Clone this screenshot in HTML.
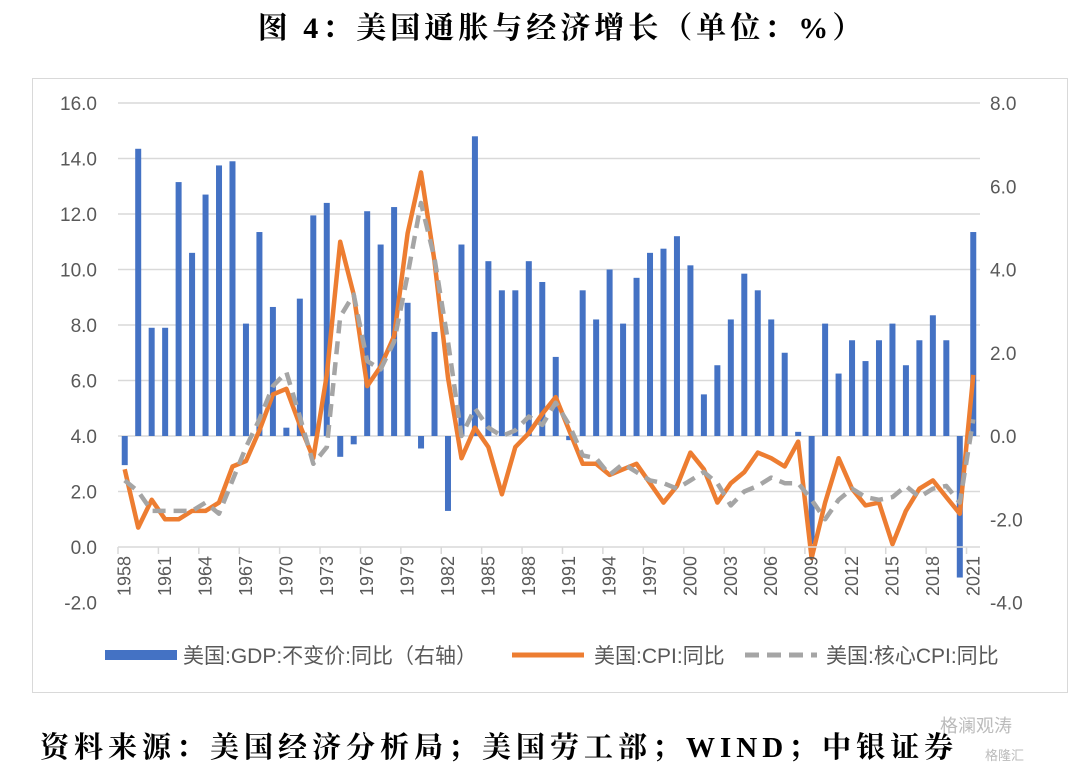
<!DOCTYPE html>
<html><head><meta charset="utf-8"><style>
body{margin:0;background:#fff;width:1080px;height:773px;overflow:hidden;font-family:"Liberation Sans","Noto Sans CJK SC",sans-serif}
</style></head><body>
<svg id="c" width="1080" height="773" xmlns="http://www.w3.org/2000/svg">
<text x="562" y="38" text-anchor="middle" font-family="Liberation Serif,'Noto Serif CJK SC',serif" font-weight="bold" font-size="30" letter-spacing="4" fill="#000">图 4：美国通胀与经济增长（单位：%）</text>
<rect x="32.5" y="78.5" width="1035" height="614" fill="none" stroke="#d9d9d9"/>
<g id="grid"></g><g id="bars"></g><g id="lines"></g><g id="axes"></g>
<g font-size="21" fill="#595959">
<rect x="105" y="650" width="72" height="10" fill="#4472C4"/>
<text x="183" y="663">美国:GDP:不变价:同比（右轴）</text>
<line x1="512" y1="655" x2="584" y2="655" stroke="#ED7D31" stroke-width="5"/>
<text x="594" y="663">美国:CPI:同比</text>
<line x1="745" y1="655" x2="817" y2="655" stroke="#A5A5A5" stroke-width="5" stroke-dasharray="14,8"/>
<text x="826" y="663">美国:核心CPI:同比</text>
</g>
<text x="40" y="757" font-family="Liberation Serif,'Noto Serif CJK SC',serif" font-weight="bold" font-size="29" letter-spacing="5" fill="#000">资料来源：美国经济分析局；美国劳工部；WIND；中银证券</text>
<text x="940" y="732" font-size="18" fill="#bbb">格澜观涛</text>
<text x="985" y="760" font-size="13" fill="#bbb">格隆汇</text>
</svg>
<script>
const years=[];for(let y=1958;y<=2021;y++)years.push(y);
const gdp=[-0.7,6.9,2.6,2.6,6.1,4.4,5.8,6.5,6.6,2.7,4.9,3.1,0.2,3.3,5.3,5.6,-0.5,-0.2,5.4,4.6,5.5,3.2,-0.3,2.5,-1.8,4.6,7.2,4.2,3.5,3.5,4.2,3.7,1.9,-0.1,3.5,2.8,4.0,2.7,3.8,4.4,4.5,4.8,4.1,1.0,1.7,2.8,3.9,3.5,2.8,2.0,0.1,-2.6,2.7,1.5,2.3,1.8,2.3,2.7,1.7,2.3,2.9,2.3,-3.4,4.9];
const cpi=[2.8,0.7,1.7,1.0,1.0,1.3,1.3,1.6,2.9,3.1,4.2,5.5,5.7,4.4,3.2,6.2,11.0,9.1,5.8,6.5,7.6,11.3,13.5,10.3,6.1,3.2,4.3,3.6,1.9,3.6,4.1,4.8,5.4,4.2,3.0,3.0,2.6,2.8,3.0,2.3,1.6,2.2,3.4,2.8,1.6,2.3,2.7,3.4,3.2,2.9,3.8,-0.4,1.6,3.2,2.1,1.5,1.6,0.1,1.3,2.1,2.4,1.8,1.2,6.2];
const core=[2.4,2.0,1.3,1.3,1.3,1.3,1.6,1.2,2.4,3.6,4.6,5.8,6.3,4.7,3.0,3.6,8.3,9.1,6.7,6.4,7.4,9.8,12.4,10.4,7.4,4.0,5.0,4.3,4.0,4.2,4.7,4.4,5.2,4.4,3.3,3.2,2.6,3.0,2.7,2.4,2.3,2.1,2.4,2.7,2.3,1.5,2.0,2.2,2.5,2.3,2.3,1.7,1.0,1.7,2.1,1.8,1.7,1.8,2.2,1.8,2.1,2.2,1.6,4.6];
const leftTicks=[-2,0,2,4,6,8,10,12,14,16];
const rightTicks=[-4,-2,0,2,4,6,8];
const NS="http://www.w3.org/2000/svg";
const X0=118,X1=980,step=(X1-X0)/years.length;
const xc=i=>X0+step*(i+0.5);
const yL=v=>547-v*27.75;
const yR=v=>436-v*41.625;
function mk(t,a,p){const e=document.createElementNS(NS,t);for(const k in a)e.setAttribute(k,a[k]);p.appendChild(e);return e;}
const grid=document.getElementById('grid'),bars=document.getElementById('bars'),lines=document.getElementById('lines'),axes=document.getElementById('axes');
leftTicks.forEach(v=>{
 if(v!==0&&v!==-2){const g=mk('line',{x1:X0,x2:X1,y1:yL(v),y2:yL(v),stroke:'#d9d9d9','stroke-width':1.5},grid);
 
 }
 const t=mk('text',{x:97,y:yL(v)+7,'text-anchor':'end','font-size':19,fill:'#595959'},axes);t.textContent=v.toFixed(1);
 
 
});
rightTicks.forEach(v=>{
 const t=mk('text',{x:990,y:yR(v)+7,'font-size':19,fill:'#595959'},axes);t.textContent=v.toFixed(1);
 
 
});
gdp.forEach((v,i)=>{
 const y0=yR(0),y=yR(v);
 const r=mk('rect',{x:xc(i)-3,width:6,y:Math.min(y,y0),height:Math.abs(y-y0),fill:'#4472C4'},bars);
 
 
});
const ax=mk('line',{x1:X0,x2:X1,y1:547,y2:547,stroke:'#d9d9d9','stroke-width':1.5},axes);


years.forEach((yr,i)=>{
 if(i%3===0){
  const tk=mk('line',{x1:xc(i)-step/2,x2:xc(i)-step/2,y1:547,y2:554,stroke:'#d9d9d9','stroke-width':1.5},axes);
  
  
  const t=mk('text',{transform:`translate(${xc(i)+6},556) rotate(-90)`,'text-anchor':'end','font-size':18,fill:'#595959'},axes);t.textContent=yr;
  
  
 }
});
const pts=a=>a.map((v,i)=>xc(i).toFixed(1)+','+yL(v).toFixed(1)).join(' ');
const l1=mk('polyline',{points:pts(cpi),fill:'none',stroke:'#ED7D31','stroke-width':4.5,'stroke-linejoin':'round'},lines);


const l2=mk('polyline',{points:pts(core),fill:'none',stroke:'#A5A5A5','stroke-width':4.5,'stroke-dasharray':'13,8','stroke-linejoin':'round'},lines);


</script>
</body></html>
